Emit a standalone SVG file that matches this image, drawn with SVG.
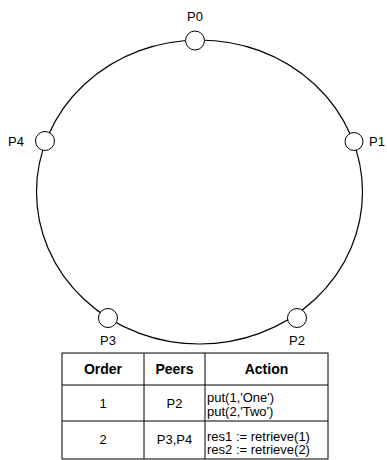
<svg xmlns="http://www.w3.org/2000/svg" width="387" height="460" viewBox="0 0 387 460">
<style>
text{font-family:"Liberation Sans",Arial,Helvetica,sans-serif;fill:#000;font-size:13px}
.c{text-anchor:middle}
.b{font-weight:bold;font-size:14px}
.a{font-size:13px}
.node{fill:#fff;stroke:#000;stroke-width:1}
.ring{fill:none;stroke:#000;stroke-width:1.2}
.tb{fill:#fff;stroke:#000;stroke-width:1}
.gl{stroke:#000;stroke-width:1}
</style>
<g id="connectors">
<ellipse class="ring" cx="199.5" cy="192" rx="163" ry="152"/>
</g>
<g id="P0"><circle class="node" cx="195" cy="40.5" r="9.5"/><text class="c" x="195" y="21">P0</text></g>
<g id="P1"><circle class="node" cx="354" cy="141.5" r="9"/><text x="369" y="146">P1</text></g>
<g id="P2"><circle class="node" cx="297" cy="318" r="9.5"/><text class="c" x="297" y="345">P2</text></g>
<g id="P3"><circle class="node" cx="108" cy="318" r="9.5"/><text class="c" x="108" y="345">P3</text></g>
<g id="P4"><circle class="node" cx="45" cy="141" r="9.5"/><text x="8" y="146">P4</text></g>
<g id="table">
<rect class="tb" x="62" y="353" width="266" height="106"/>
<line class="gl" x1="144" y1="353" x2="144" y2="459"/>
<line class="gl" x1="205" y1="353" x2="205" y2="459"/>
<line class="gl" x1="62" y1="385" x2="328" y2="385"/>
<line class="gl" x1="62" y1="421" x2="328" y2="421"/>
<text class="c b" x="103" y="374">Order</text>
<text class="c b" x="174.5" y="374">Peers</text>
<text class="c b" x="266.5" y="374">Action</text>
<text class="c" x="103" y="408">1</text>
<text class="c" x="174.5" y="408">P2</text>
<text class="a" x="207" y="401.5">put(1,'One')</text>
<text class="a" x="207" y="415.5">put(2,'Two')</text>
<text class="c" x="103" y="444">2</text>
<text class="c" x="174.5" y="444">P3,P4</text>
<text class="a" x="207" y="440.5">res1  := retrieve(1)</text>
<text class="a" x="207" y="454">res2  := retrieve(2)</text>
</g>
</svg>
